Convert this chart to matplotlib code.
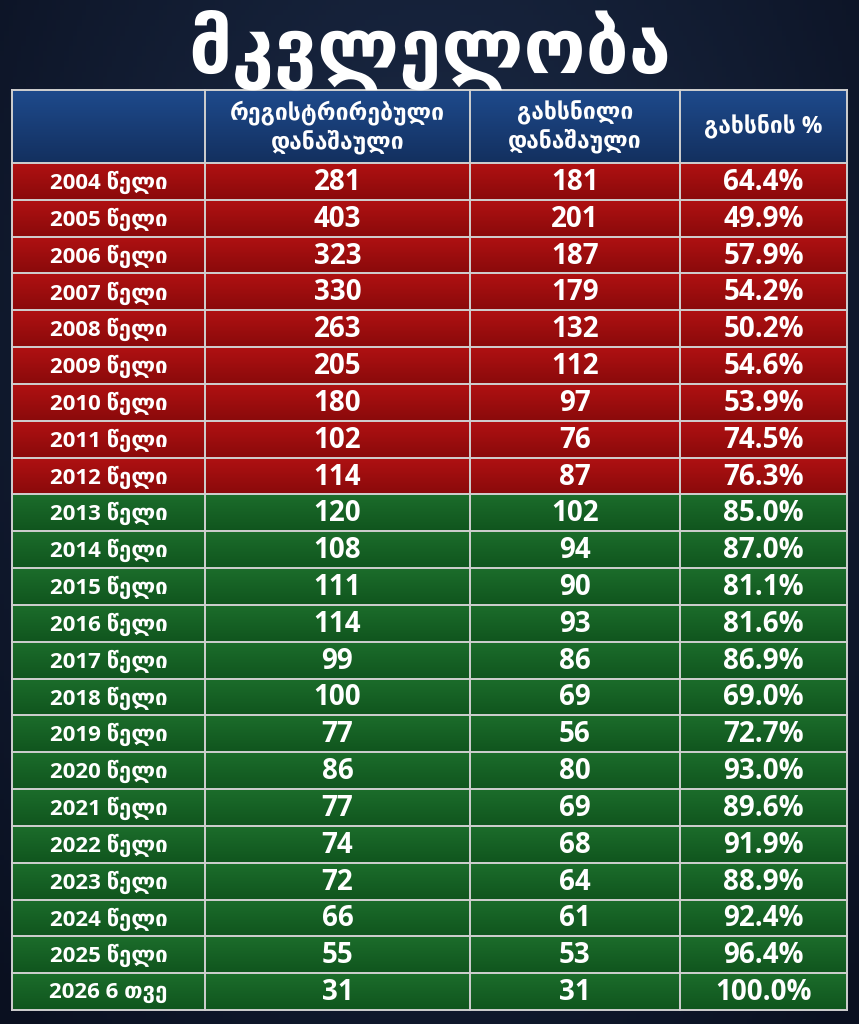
import numpy as np
import matplotlib.pyplot as plt
from matplotlib.colors import LinearSegmentedColormap

title = "მკვლელობა"
headers = ["", "რეგისტრირებული\nდანაშაული", "გახსნილი\nდანაშაული", "გახსნის %"]
years = ["2004 წელი", "2005 წელი", "2006 წელი", "2007 წელი", "2008 წელი",
         "2009 წელი", "2010 წელი", "2011 წელი", "2012 წელი", "2013 წელი",
         "2014 წელი", "2015 წელი", "2016 წელი", "2017 წელი", "2018 წელი",
         "2019 წელი", "2020 წელი", "2021 წელი", "2022 წელი", "2023 წელი",
         "2024 წელი", "2025 წელი", "2026 6 თვე"]
registered = [281, 403, 323, 330, 263, 205, 180, 102, 114, 120, 108, 111, 114,
              99, 100, 77, 86, 77, 74, 72, 66, 55, 31]
solved = [181, 201, 187, 179, 132, 112, 97, 76, 87, 102, 94, 90, 93, 86, 69,
          56, 80, 69, 68, 64, 61, 53, 31]
solved_pct = [64.4, 49.9, 57.9, 54.2, 50.2, 54.6, 53.9, 74.5, 76.3, 85.0, 87.0,
              81.1, 81.6, 86.9, 69.0, 72.7, 93.0, 89.6, 91.9, 88.9, 92.4, 96.4,
              100.0]
n_red = 9  # rows up to 2012 are red

W, H = 859, 1024
fig = plt.figure(figsize=(W / 100, H / 100), dpi=100)
ax = fig.add_axes([0, 0, 1, 1])
ax.set_xlim(0, W)
ax.set_ylim(H, 0)
ax.axis('off')

fonts = ['Open Sans', 'DejaVu Sans']

# background: dark navy with lighter centre
yy, xx = np.mgrid[0:1:200j, 0:1:200j]
r = np.sqrt(((xx - 0.5) / 0.7) ** 2 + ((yy - 0.35) / 0.9) ** 2)
bg_cmap = LinearSegmentedColormap.from_list('bg', ['#1d2d4a', '#0a1020'])
ax.imshow(np.clip(r, 0, 1), cmap=bg_cmap, extent=[0, W, H, 0], aspect='auto', zorder=0)

col_x = [12, 205, 470, 680, 847]
top, head_bot, bottom = 90, 163, 1010
row_h = (bottom - head_bot) / len(years)


def grad_rect(x0, x1, y0, y1, c_top, c_bot):
    cm = LinearSegmentedColormap.from_list('g', [c_top, c_bot])
    g = np.linspace(0, 1, 50).reshape(-1, 1)
    ax.imshow(g, cmap=cm, extent=[x0, x1, y1, y0], aspect='auto', zorder=1)


# header background
grad_rect(col_x[0], col_x[-1], top, head_bot, '#1e4a8c', '#13305f')
# row backgrounds
for i in range(len(years)):
    y0 = head_bot + i * row_h
    if i < n_red:
        grad_rect(col_x[0], col_x[-1], y0, y0 + row_h, '#b01112', '#8a0a0b')
    else:
        grad_rect(col_x[0], col_x[-1], y0, y0 + row_h, '#1c6d2b', '#10551e')

ax.set_xlim(0, W)
ax.set_ylim(H, 0)

# grid lines
line_kw = dict(color='#d0d0d0', lw=1.4, zorder=3)
for x in col_x:
    ax.plot([x, x], [top, bottom], **line_kw)
ax.plot([col_x[0], col_x[-1]], [top, top], **line_kw)
for i in range(len(years) + 1):
    y = head_bot + i * row_h
    ax.plot([col_x[0], col_x[-1]], [y, y], **line_kw)

# title
ax.text(W / 2, 50, title, ha='center', va='center', color='white',
        fontsize=55, fontweight='bold', family=['DejaVu Sans'], zorder=4)

# headers
for j in range(1, 4):
    cx = (col_x[j] + col_x[j + 1]) / 2
    ax.text(cx, (top + head_bot) / 2 + 1, headers[j], ha='center', va='center',
            color='white', fontsize=16.5, fontweight='bold', family=fonts,
            linespacing=1.2, zorder=4)

# rows
for i in range(len(years)):
    cy = head_bot + (i + 0.5) * row_h
    vals = [years[i], str(registered[i]), str(solved[i]), f"{solved_pct[i]:.1f}%"]
    for j, v in enumerate(vals):
        cx = (col_x[j] + col_x[j + 1]) / 2
        fs = 16 if j == 0 else 20
        ax.text(cx, cy + 1, v, ha='center', va='center', color='white', fontsize=fs,
                fontweight='bold', family=fonts, zorder=4)

fig.savefig('out.png', dpi=100)
